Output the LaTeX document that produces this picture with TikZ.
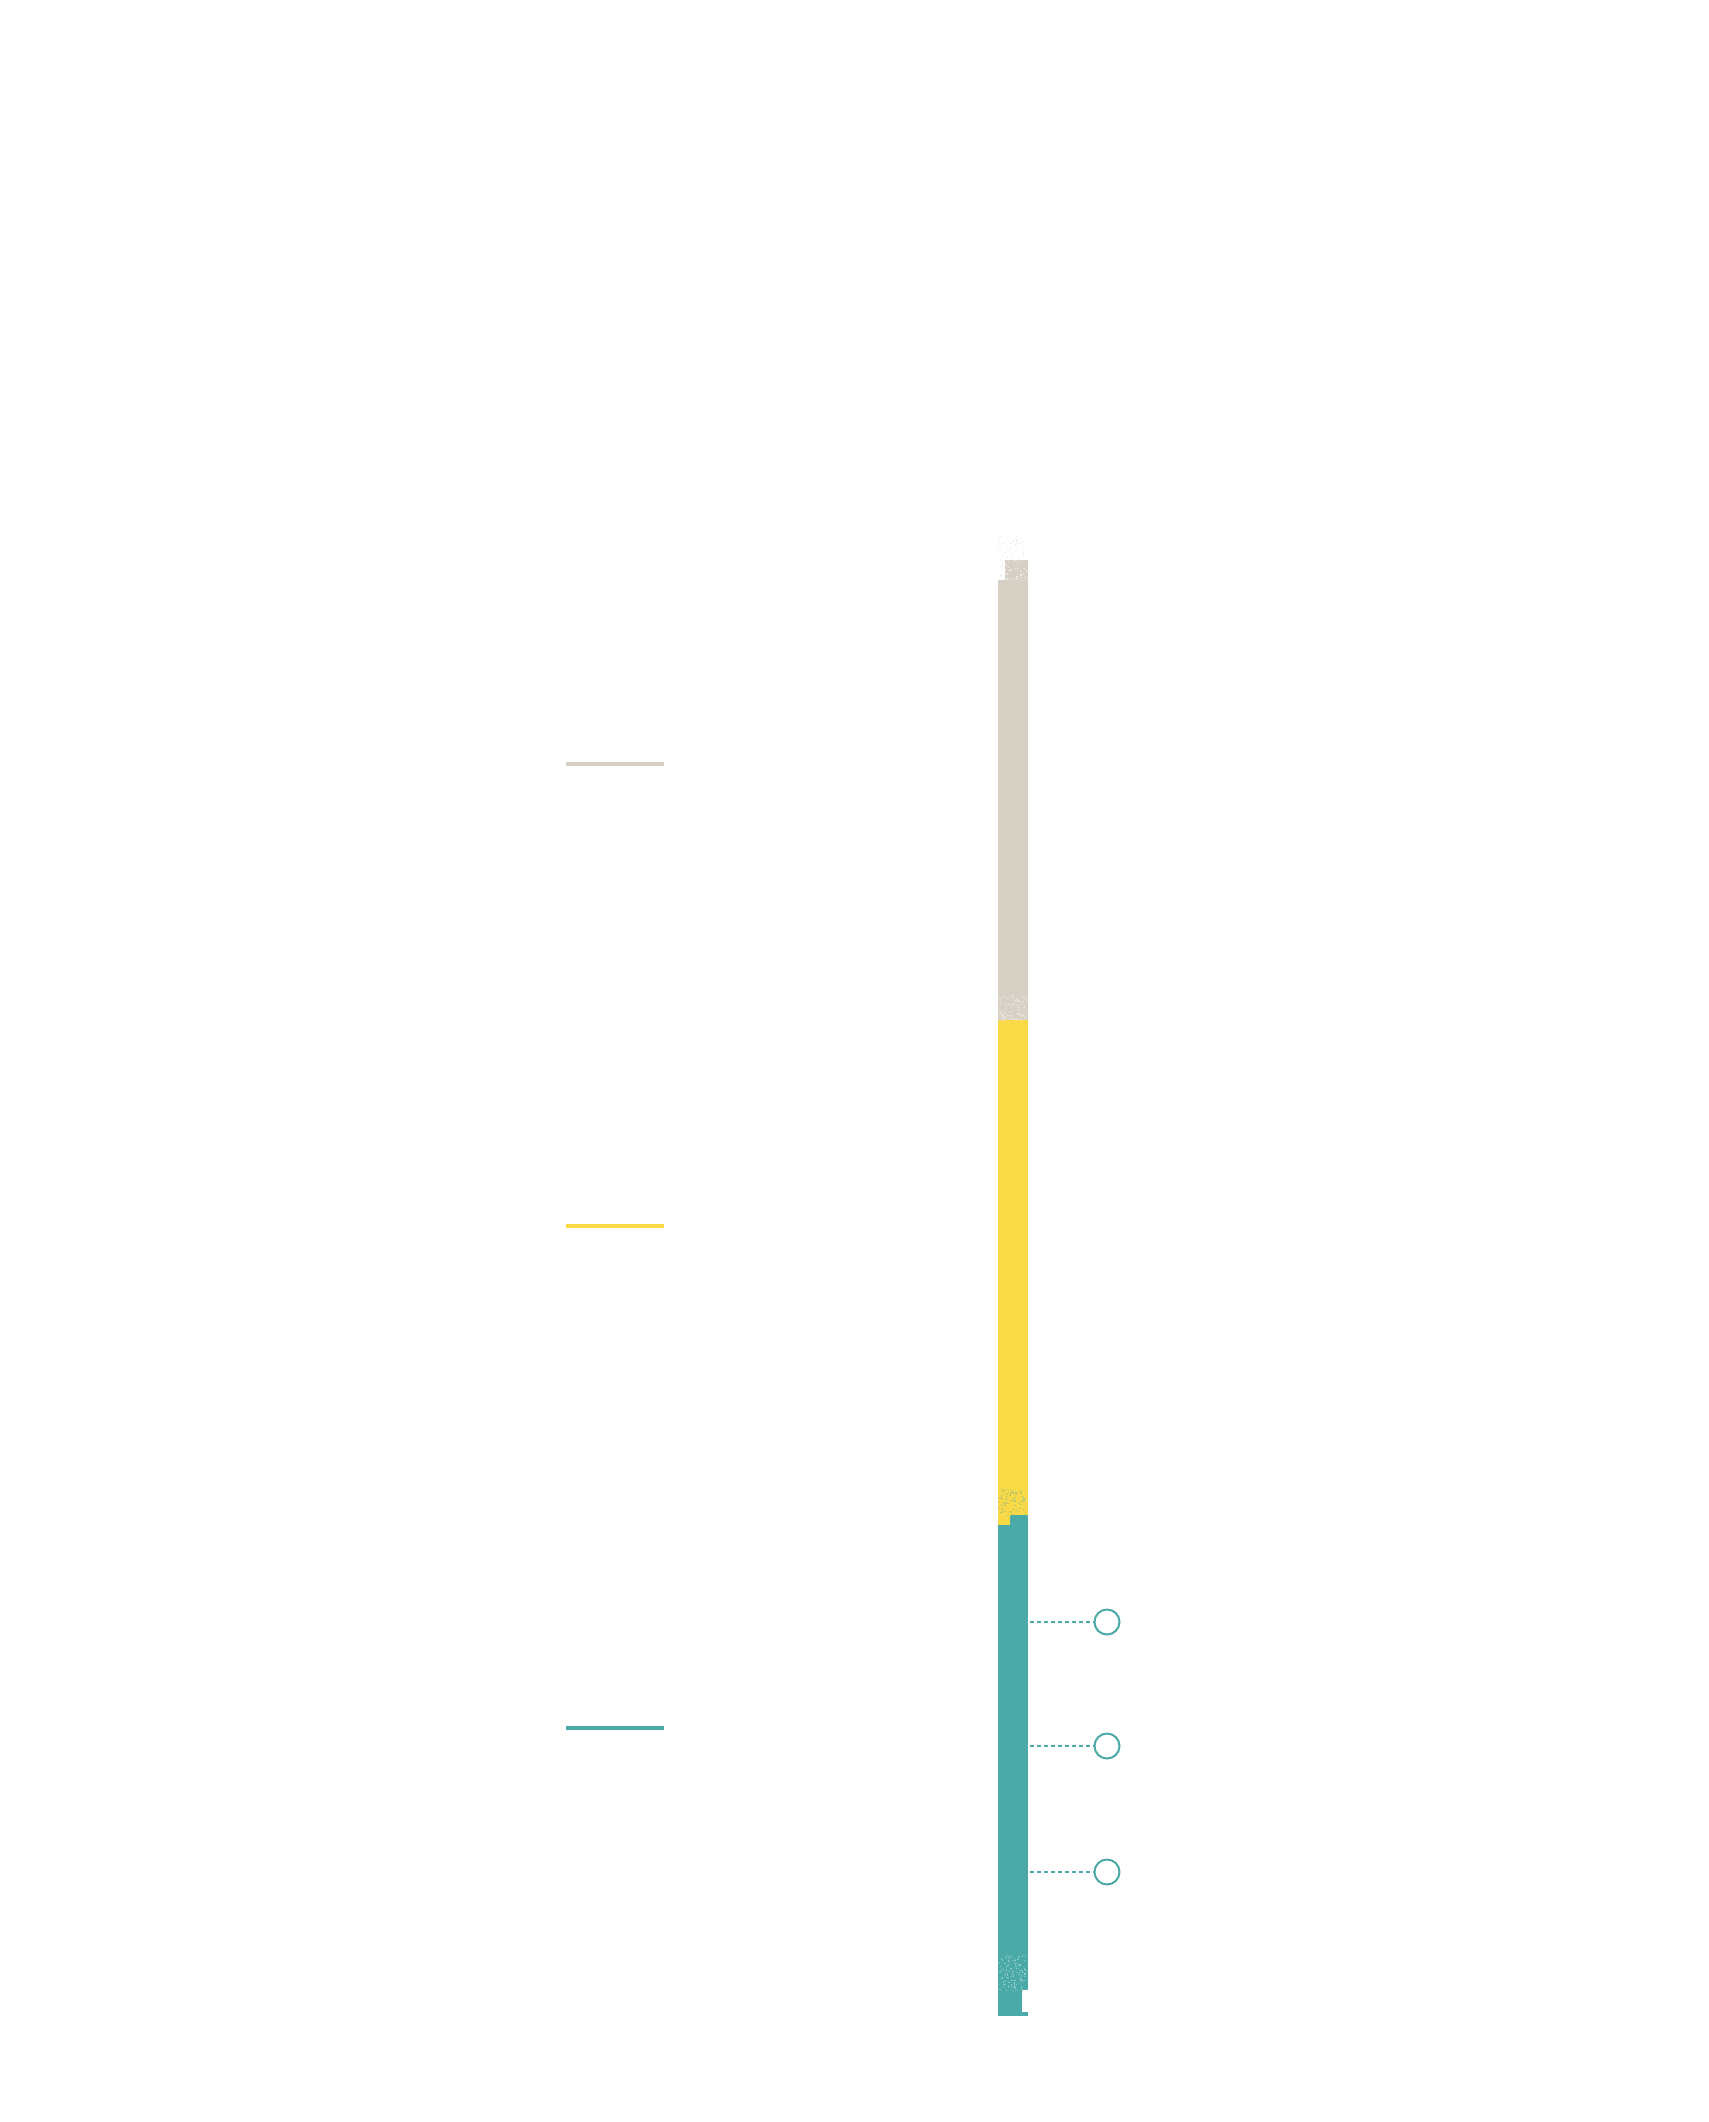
\documentclass[tikz,border=0pt]{standalone}
\definecolor{cgray}{HTML}{D6D1C4}
\definecolor{cyellow}{HTML}{F9D946}
\definecolor{cteal}{HTML}{4BAAA8}
\begin{document}
\begin{tikzpicture}[x=1pt,y=-1pt,
  legendline/.style={line width=4pt},
  marker/.style={circle,draw=cteal,line width=2pt,minimum size=25pt,inner sep=0pt},
  leader/.style={cteal,line width=2pt,dash pattern=on 4pt off 3pt}]
\useasboundingbox[fill=white] (0,0) rectangle (1708,2122);
% bar segments
\fill[cgray] (1005,560) rectangle (1028,1020);
\fill[cgray] (998,580) rectangle (1005,1020);
\fill[cyellow] (998,1020) rectangle (1028,1515);
\fill[cyellow] (998,1515) rectangle (1010,1525);
\fill[cteal] (1010,1515) rectangle (1028,1990);
\fill[cteal] (998,1525) rectangle (1022,2012);
\fill[cteal] (998,2012) rectangle (1028,2016);
% texture in transitions
\pgfmathsetseed{7}
\foreach \i in {1,...,90}{
  \pgfmathsetmacro{\xx}{998+rnd*28}
  \pgfmathsetmacro{\yy}{535+rnd*45}
  \fill[cgray!35] (\xx,\yy) rectangle ++(1.2,1.2);
}
\foreach \i in {1,...,110}{
  \pgfmathsetmacro{\xx}{998+rnd*28}
  \pgfmathsetmacro{\yy}{995+rnd*25}
  \fill[white!40!cgray] (\xx,\yy) rectangle ++(1.2,1.2);
}
\foreach \i in {1,...,110}{
  \pgfmathsetmacro{\xx}{998+rnd*28}
  \pgfmathsetmacro{\yy}{1488+rnd*27}
  \fill[cteal!35!cyellow] (\xx,\yy) rectangle ++(1.2,1.2);
}
\foreach \i in {1,...,110}{
  \pgfmathsetmacro{\xx}{998+rnd*28}
  \pgfmathsetmacro{\yy}{1955+rnd*35}
  \fill[white!35!cteal] (\xx,\yy) rectangle ++(1.2,1.2);
}
% legend lines
\coordinate (g1) at (566,764); \coordinate (g2) at (664,764);
\coordinate (y1) at (566,1226); \coordinate (y2) at (664,1226);
\coordinate (t1) at (566,1728); \coordinate (t2) at (664,1728);
\draw[legendline,cgray] (g1) -- (g2);
\draw[legendline,cyellow] (y1) -- (y2);
\draw[legendline,cteal] (t1) -- (t2);
% markers
\node[marker] (m1) at (1107,1622) {};
\node[marker] (m2) at (1107,1746) {};
\node[marker] (m3) at (1107,1872) {};
\coordinate (b1) at (1030,1622);
\coordinate (b2) at (1030,1746);
\coordinate (b3) at (1030,1872);
\draw[leader] (b1) -- (m1);
\draw[leader] (b2) -- (m2);
\draw[leader] (b3) -- (m3);
\end{tikzpicture}
\end{document}
